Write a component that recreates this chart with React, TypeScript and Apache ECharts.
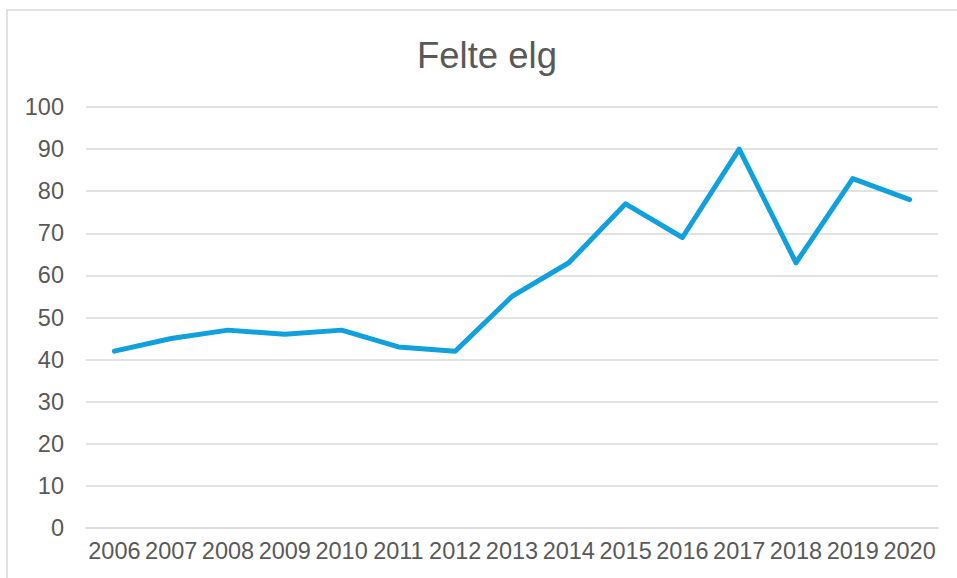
import React, { useEffect, useRef } from "react";
import * as echarts from "echarts";

const title = "Felte elg";
const years = ["2006", "2007", "2008", "2009", "2010", "2011", "2012", "2013", "2014", "2015", "2016", "2017", "2018", "2019", "2020"];
const felteElg = [42, 45, 47, 46, 47, 43, 42, 55, 63, 77, 69, 90, 63, 83, 78];

export default function App() {
  const ref = useRef<HTMLDivElement>(null);
  useEffect(() => {
    if (!ref.current) return;
    const chart = echarts.init(ref.current, null, { renderer: "svg" });
    const font = "'Liberation Sans', Arial, sans-serif";
    chart.setOption({
      animation: false,
      backgroundColor: "#ffffff",
      graphic: [
        {
          type: "rect",
          shape: { x: 7, y: 10, width: 980, height: 600 },
          style: { fill: "none", stroke: "#d9d9d9", lineWidth: 1.5 },
          silent: true,
        },
        {
          type: "text",
          x: 487,
          y: 55,
          style: {
            text: title,
            fontFamily: font,
            fontSize: 36.5,
            fill: "#595959",
            textAlign: "center",
            textVerticalAlign: "middle",
          },
        },
      ],
      grid: { left: 86, right: 19, top: 107, bottom: 50, containLabel: false },
      xAxis: {
        type: "category",
        data: years,
        boundaryGap: true,
        axisLine: { show: true, lineStyle: { color: "#d9d9d9", width: 1.5 } },
        axisTick: { show: false },
        axisLabel: { color: "#595959", fontSize: 23.5, fontFamily: font, margin: 11, interval: 0 },
        splitLine: { show: false },
      },
      yAxis: {
        type: "value",
        min: 0,
        max: 100,
        interval: 10,
        axisLine: { show: false },
        axisTick: { show: false },
        axisLabel: { color: "#595959", fontSize: 23.5, fontFamily: font, margin: 22 },
        splitLine: { lineStyle: { color: "#d9d9d9", width: 1.5 } },
      },
      series: [
        {
          type: "line",
          data: felteElg,
          showSymbol: false,
          symbol: "none",
          lineStyle: { color: "#10a0db", width: 5, cap: "round", join: "round" },
        },
      ],
    });
    return () => chart.dispose();
  }, []);
  return (
    <div
      ref={ref}
      style={{ position: "fixed", left: 0, top: 0, width: 957, height: 578 }}
    />
  );
}
